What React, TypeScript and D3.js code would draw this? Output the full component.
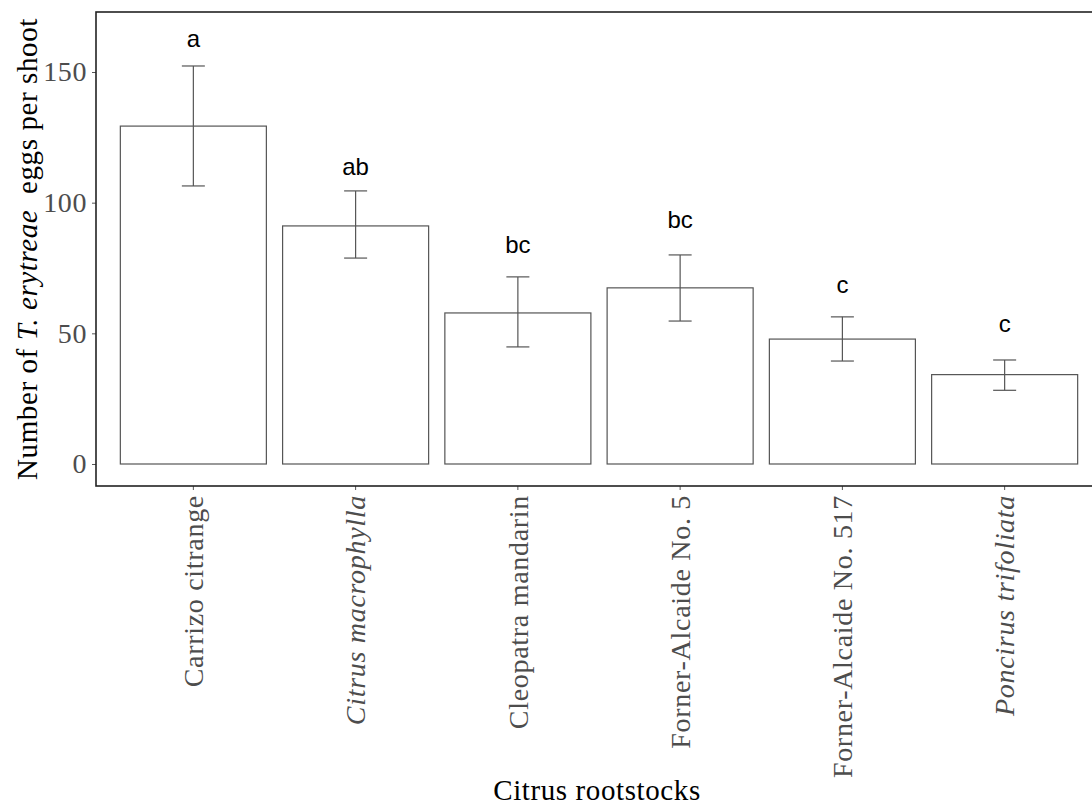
import React, { useRef, useEffect } from 'react'
import { select, scaleBand, scaleLinear, axisLeft, axisBottom } from 'd3'

// data
const rootstocks = [
  'Carrizo citrange',
  'Citrus macrophylla',
  'Cleopatra mandarin',
  'Forner-Alcaide No. 5',
  'Forner-Alcaide No. 517',
  'Poncirus trifoliata',
]
const italicNames = ['Citrus macrophylla', 'Poncirus trifoliata']
const meanEggs = [129.3, 91.1, 57.8, 67.4, 47.8, 34.2]
const lowerSE = [106.4, 78.8, 44.8, 54.7, 39.4, 28.2]
const upperSE = [152.3, 104.5, 71.6, 80.0, 56.3, 39.8]
const letters = ['a', 'ab', 'bc', 'bc', 'c', 'c']
const letterY = [159.6, 110.6, 80.7, 90.3, 65.4, 50.6]
const yTicks = [0, 50, 100, 150]

function App() {
  const ref = useRef(null)

  useEffect(() => {
    document.body.style.margin = '0'
    const svg = select(ref.current)
    svg.selectAll('*').remove()

    const left = 96
    const top = 12
    const bottom = 486
    const right = 1102
    const serif = 'Liberation Serif, Times New Roman, serif'

    const xScale = scaleBand()
      .domain(rootstocks)
      .range([left, right])
      .paddingInner(0.1)
      .paddingOuter(0.15)

    const yScale = scaleLinear()
      .domain([-8.42, 172.96])
      .range([bottom, top])

    const grey = '#555555'

    // bars
    svg.append('g').selectAll('rect').data(rootstocks)
      .enter().append('rect')
        .attr('x', d => xScale(d))
        .attr('y', (d, i) => yScale(meanEggs[i]))
        .attr('width', xScale.bandwidth())
        .attr('height', (d, i) => yScale(0) - yScale(meanEggs[i]))
        .attr('fill', 'white')
        .attr('stroke', grey)
        .attr('stroke-width', 1.2)

    // error bars
    const capW = 23
    const eb = svg.append('g').attr('stroke', grey).attr('stroke-width', 1.2)
    rootstocks.forEach((d, i) => {
      const cx = xScale(d) + xScale.bandwidth() / 2
      eb.append('line').attr('x1', cx).attr('x2', cx)
        .attr('y1', yScale(lowerSE[i])).attr('y2', yScale(upperSE[i]))
      eb.append('line').attr('x1', cx - capW / 2).attr('x2', cx + capW / 2)
        .attr('y1', yScale(lowerSE[i])).attr('y2', yScale(lowerSE[i]))
      eb.append('line').attr('x1', cx - capW / 2).attr('x2', cx + capW / 2)
        .attr('y1', yScale(upperSE[i])).attr('y2', yScale(upperSE[i]))
    })

    // significance letters
    svg.append('g').selectAll('text').data(rootstocks)
      .enter().append('text')
        .attr('x', d => xScale(d) + xScale.bandwidth() / 2)
        .attr('y', (d, i) => yScale(letterY[i]))
        .attr('text-anchor', 'middle')
        .attr('font-family', 'Liberation Sans, Arial, sans-serif')
        .attr('font-size', 24)
        .attr('fill', 'black')
        .text((d, i) => letters[i])

    // y axis
    const yAxis = svg.append('g')
      .attr('transform', `translate(${left},0)`)
      .call(axisLeft(yScale).tickValues(yTicks).tickSize(4).tickPadding(5))
    yAxis.select('.domain').remove()
    yAxis.selectAll('line').attr('stroke', grey)
    yAxis.selectAll('text')
      .attr('font-family', serif)
      .attr('font-size', 28)
      .attr('letter-spacing', 0.6)
      .attr('fill', '#4d4d4d')

    // x axis
    const xAxis = svg.append('g')
      .attr('transform', `translate(0,${bottom})`)
      .call(axisBottom(xScale).tickSize(4).tickPadding(0))
    xAxis.select('.domain').remove()
    xAxis.selectAll('line').attr('stroke', grey)
    xAxis.selectAll('text')
      .attr('font-family', serif)
      .attr('font-size', 28)
      .attr('letter-spacing', 0.7)
      .attr('fill', '#4d4d4d')
      .attr('text-anchor', 'end')
      .attr('transform', 'rotate(-90)')
      .attr('x', -9)
      .attr('y', 0)
      .attr('dy', '0.35em')
      .style('font-style', d => italicNames.includes(d) ? 'italic' : 'normal')

    // panel border
    svg.append('rect')
      .attr('x', left).attr('y', top)
      .attr('width', right - left).attr('height', bottom - top)
      .attr('fill', 'none')
      .attr('stroke', '#222')
      .attr('stroke-width', 1.6)

    // axis titles
    svg.append('text')
      .attr('x', 597)
      .attr('y', 800)
      .attr('text-anchor', 'middle')
      .attr('font-family', serif)
      .attr('font-size', 29)
      .attr('letter-spacing', 0.6)
      .attr('fill', 'black')
      .text('Citrus rootstocks')

    const yt = svg.append('text')
      .attr('transform', `translate(37,${(top + bottom) / 2}) rotate(-90)`)
      .attr('text-anchor', 'middle')
      .attr('font-family', serif)
      .attr('font-size', 29)
      .attr('letter-spacing', 0.6)
      .attr('fill', 'black')
    yt.append('tspan').text('Number of ')
    yt.append('tspan').style('font-style', 'italic').text('T. erytreae')
    yt.append('tspan').text('\u00a0 eggs per shoot')
  }, [])

  return (
    <div className='d3div'>
      <svg ref={ref} width={1092} height={807} style={{ display: 'block' }}></svg>
    </div>
  )
}

export default App
